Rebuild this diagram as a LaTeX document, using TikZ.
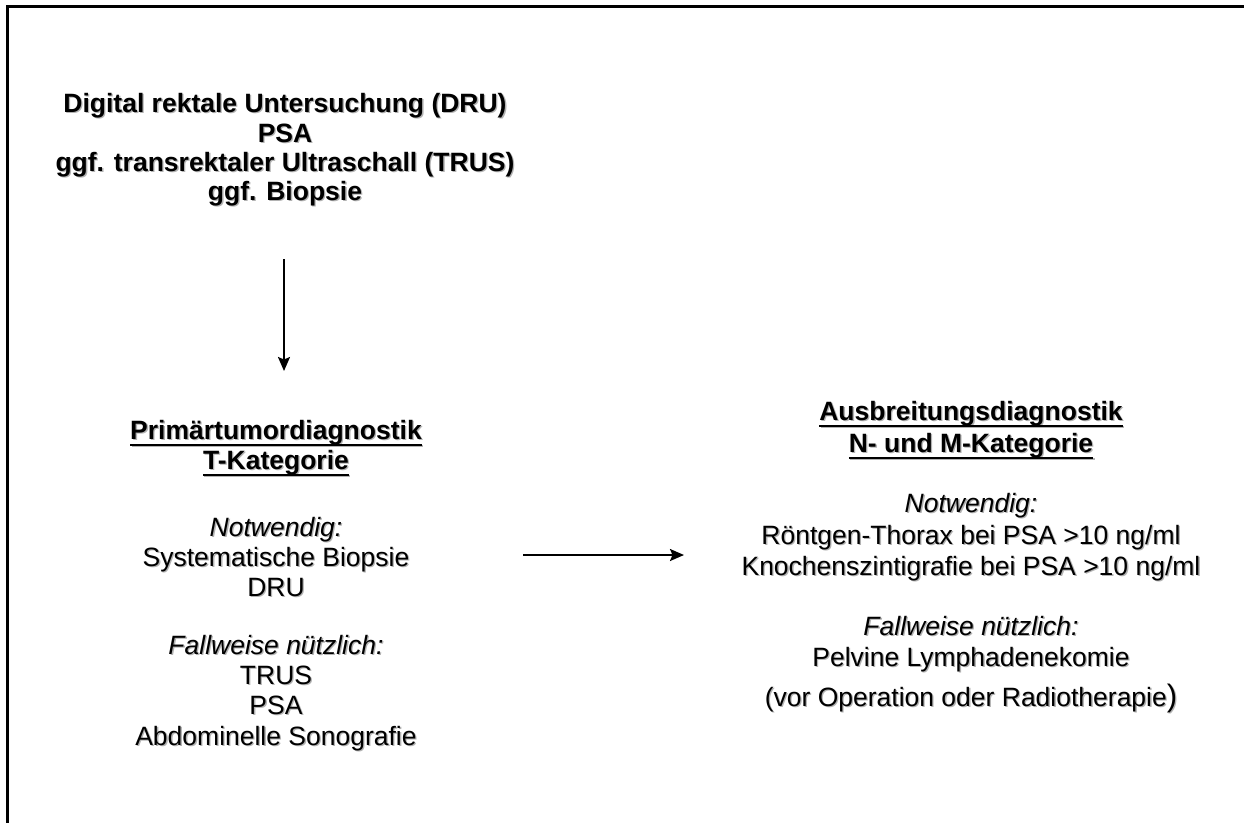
\documentclass[tikz,border=0pt]{standalone}
\usepackage{fontspec}
\setmainfont{Liberation Sans}
\usetikzlibrary{arrows.meta}
\newsavebox\ulbox
\newcommand\shd[1]{\rlap{\kern1.3pt\raisebox{-1.3pt}{\color{black!30}#1}}#1}
\newcommand\ulx[1]{\sbox\ulbox{#1}\rlap{\rule[-6.5pt]{\wd\ulbox}{2pt}}\usebox\ulbox}
\tikzset{
  ln/.style={anchor=base, inner sep=0pt, font=\fontsize{26.5}{30}\selectfont},
  bl/.style={ln, font=\fontsize{26.5}{30}\selectfont\bfseries},
  it/.style={ln, font=\fontsize{26.5}{30}\selectfont\itshape},
  arr/.style={line width=2pt, -{Stealth[length=14pt,width=12pt,inset=2.5pt]}},
  frame/.style={line width=2.4pt}
}
\begin{document}
\begin{tikzpicture}[x=1pt,y=-1pt]
\path[use as bounding box, fill=white] (0,0) rectangle (1244,823);
\draw[frame] (1244,6.5) -- (7.5,6.5) -- (7.5,823);

% top block
\node[bl] (t1) at (285,112.5) {\shd{Digital rektale Untersuchung (DRU)}};
\node[bl] (t2) at (285,142) {\shd{PSA}};
\node[bl] (t3) at (285,171) {\shd{ggf. transrektaler Ultraschall (TRUS)}};
\node[bl] (t4) at (285,200) {\shd{ggf. Biopsie}};

% left block
\node[bl] (l1) at (276,439) {\shd{\ulx{Primärtumordiagnostik}}};
\node[bl] (l2) at (276,469) {\shd{\ulx{T-Kategorie}}};
\node[it] (l3) at (276,536) {\shd{Notwendig:}};
\node[ln] (l4) at (276,566) {\shd{Systematische Biopsie}};
\node[ln] (l5) at (276,596) {\shd{DRU}};
\node[it] (l6) at (276,654) {\shd{Fallweise nützlich:}};
\node[ln] (l7) at (276,684) {\shd{TRUS}};
\node[ln] (l8) at (276,714) {\shd{PSA}};
\node[ln] (l9) at (276,745) {\shd{Abdominelle Sonografie}};

% right block
\node[bl] (r1) at (971,420) {\shd{\ulx{Ausbreitungsdiagnostik}}};
\node[bl] (r2) at (971,452) {\shd{\ulx{N- und M-Kategorie}}};
\node[it] (r3) at (971,512) {\shd{Notwendig:}};
\node[ln] (r4) at (971,544) {\shd{Röntgen-Thorax bei PSA >10 ng/ml}};
\node[ln] (r5) at (971,575) {\shd{Knochenszintigrafie bei PSA >10 ng/ml}};
\node[it] (r6) at (971,635) {\shd{Fallweise nützlich:}};
\node[ln] (r7) at (971,666) {\shd{Pelvine Lymphadenekomie}};
\node[ln] (r8) at (971,706) {\shd{(vor Operation oder Radiotherapie{\fontsize{31}{31}\selectfont)}}};

% arrows
\coordinate (va) at (284,259);
\coordinate (vb) at (284,371);
\coordinate (ha) at (523,555);
\coordinate (hb) at (684,555);
\draw[arr] (va) -- (vb);
\draw[arr] (ha) -- (hb);
\end{tikzpicture}
\end{document}
